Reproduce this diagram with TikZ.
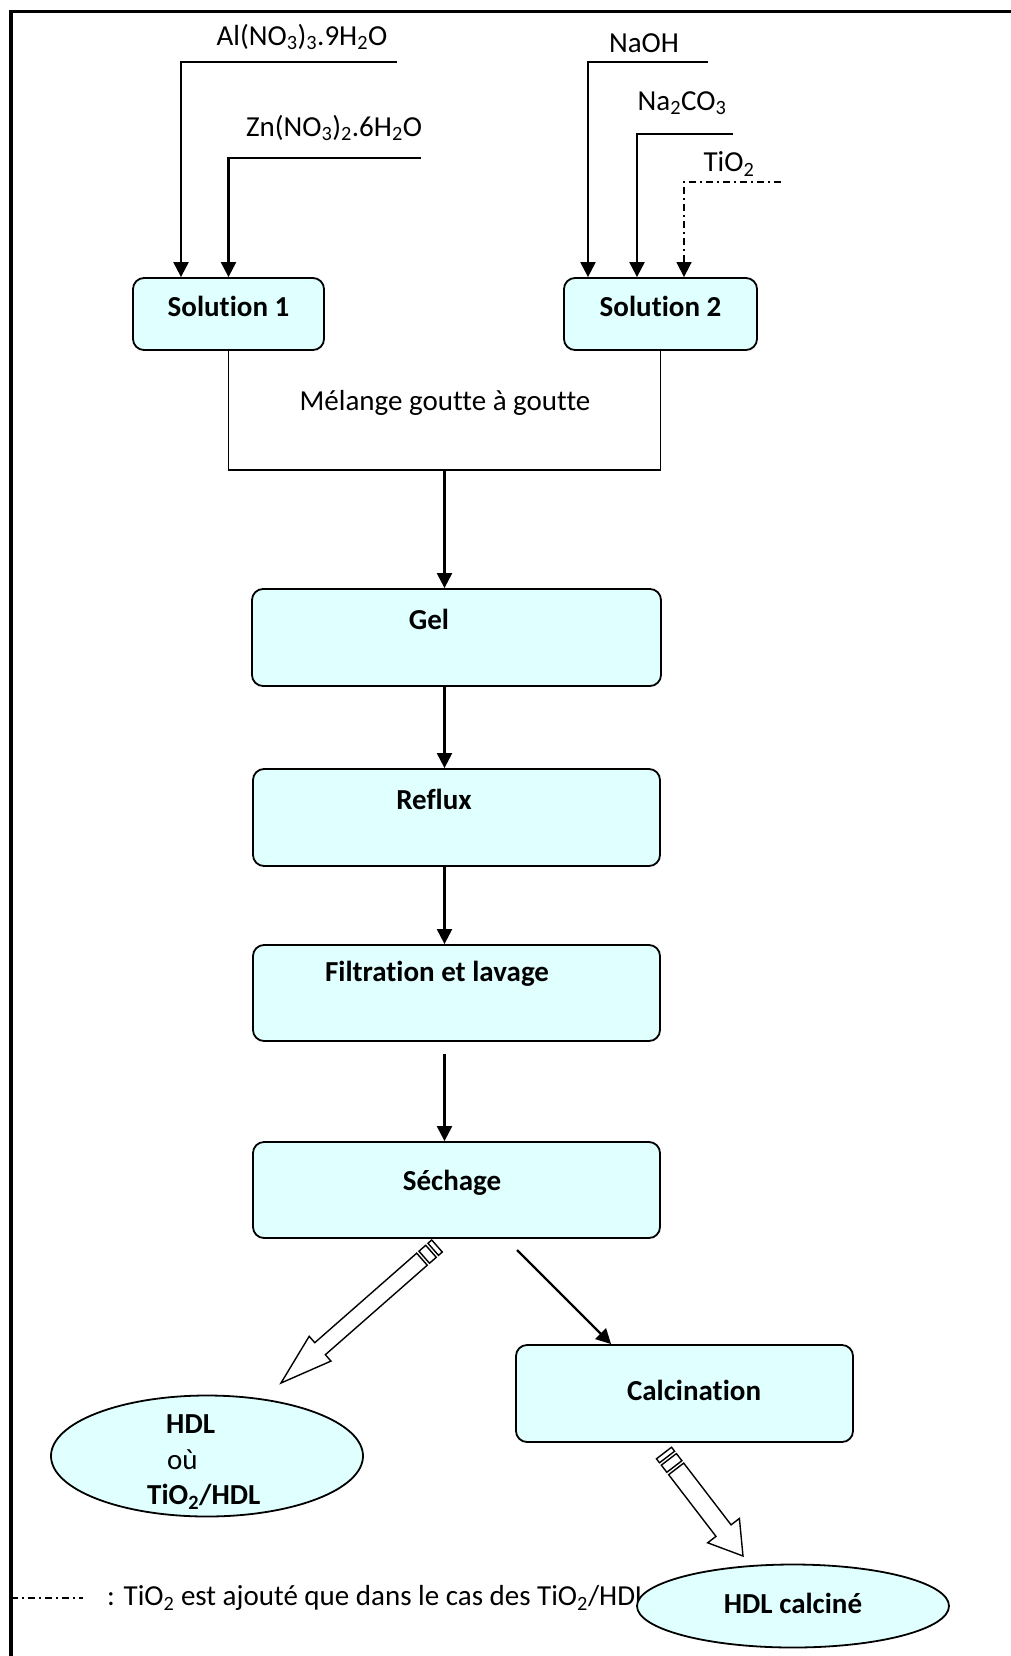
\documentclass[tikz,border=0pt]{standalone}
\usepackage{fontspec}
\setmainfont[Ligatures=NoCommon, Contextuals=NoAlternate]{Carlito}
\usepackage{xcolor}
\usetikzlibrary{arrows.meta,positioning,calc,shapes.geometric}
\definecolor{cyanfill}{RGB}{224,255,255}
% striped hollow arrow: tail, tip, shaft half width, head length, head half width
\newcommand{\stripedarrow}[5]{%
  \path let \p1=($(#2)-(#1)$) in
    \pgfextra{\pgfmathparse{atan2(\y1,\x1)}\xdef\sarang{\pgfmathresult}%
      \pgfmathparse{veclen(\x1,\y1)}\xdef\sarlen{\pgfmathresult}};
  \draw[hollow, shift={(#1)}, rotate=\sarang]
    (0pt,-#3) rectangle (5pt,#3) (8pt,-#3) rectangle (17pt,#3)
    (20pt,-#3) -- ({\sarlen pt-#4},-#3) -- ({\sarlen pt-#4},-#5) -- (\sarlen pt,0pt)
    -- ({\sarlen pt-#4},#5) -- ({\sarlen pt-#4},#3) -- (20pt,#3) -- cycle;
}

\begin{document}
\begin{tikzpicture}[
  x=1pt, y=-1pt,
  font=\fontsize{29pt}{35pt}\selectfont,
  procbox/.style={draw, line width=1.8pt, rounded corners=11pt, fill=cyanfill, inner sep=0pt},
  blob/.style={draw, ellipse, line width=1.8pt, fill=cyanfill, inner sep=0pt},
  lbl/.style={font=\fontsize{29pt}{35pt}\selectfont\bfseries, inner sep=0pt},
  arr/.style={line width=2.2pt, -{Triangle[length=15pt,width=15pt]}},
  dashdot/.style={line width=1.6pt, dash pattern=on 7pt off 4pt on 2pt off 4pt},
  hollow/.style={draw, line width=1.4pt, fill=white},
  >=Stealth]
\useasboundingbox (0,0) rectangle (1011,1656);
\draw[line width=3.5pt] (11,1660) -- (11,11.5) -- (1015,11.5);

% the two solutions
\node[procbox, lbl, text depth=16pt, minimum width=191pt, minimum height=72pt] (sol1) at (228.5,314) {Solution 1};
\node[procbox, lbl, text depth=16pt, minimum width=193pt, minimum height=72pt] (sol2) at (660.5,314) {Solution 2};

\coordinate (alend) at (397,62);
\coordinate (znend) at (421,158);
\node (al) at (302,37) {Al(NO\textsubscript{3})\textsubscript{3}.9H\textsubscript{2}O};
\node (zn) at (334,128) {Zn(NO\textsubscript{3})\textsubscript{2}.6H\textsubscript{2}O};
\draw[arr] (alend) -| ([xshift=-47.5pt]sol1.north);
\draw[arr] (znend) -| (sol1.north);

\coordinate (naohend) at (708,62);
\coordinate (carbend) at (733,134);
\coordinate (tioend) at (781,182);
\node (naoh) at (644,43) {NaOH};
\node (carb) at (682,103) {Na\textsubscript{2}CO\textsubscript{3}};
\node (tio) at (729,164) {TiO\textsubscript{2}};
\draw[arr] (naohend) -| ([xshift=-72.5pt]sol2.north);
\draw[arr] (carbend) -| ([xshift=-23.5pt]sol2.north);
\draw[arr, dashdot] (tioend) -| ([xshift=23.5pt]sol2.north);

% mixing
\coordinate (mix) at (444.5,470);
\draw[line width=1.6pt] (sol1.south) |- (mix) -| (sol2.south);
\node (melange) at (445,403) {Mélange goutte à goutte};

% process steps
\node[procbox, minimum width=409pt, minimum height=97pt] (gel) at (456.5,637.5) {};
\node[lbl, xshift=-27.5pt, yshift=18.5pt] (geltxt) at (gel) {Gel};
\node[procbox, minimum width=407pt, minimum height=97pt] (reflux) at (456.5,817.5) {};
\node[lbl, xshift=-22.5pt, yshift=18.5pt] (refluxtxt) at (reflux) {Reflux};
\node[procbox, minimum width=407pt, minimum height=96pt] (filt) at (456.5,993) {};
\node[lbl, xshift=-19.5pt, yshift=19pt] (filttxt) at (filt) {Filtration et lavage};
\node[procbox, minimum width=407pt, minimum height=96pt] (sech) at (456.5,1190) {};
\node[lbl, xshift=-4.5pt, yshift=7pt] (sechtxt) at (sech) {Séchage};
\node[procbox, minimum width=337pt, minimum height=97pt] (calcin) at (684.5,1393.5) {};
\node[lbl, xshift=9.5pt, yshift=3.5pt] (calcintxt) at (calcin) {Calcination};

\draw[arr] (mix) -- (mix |- gel.north);
\draw[arr] (mix |- gel.south) -- (mix |- reflux.north);
\draw[arr] (mix |- reflux.south) -- (mix |- filt.north);
\draw[arr] ([yshift=-12pt]mix |- filt.south) -- (mix |- sech.north);

\coordinate (drytail) at (517,1250);
\draw[arr] (drytail) -- ([xshift=96pt]calcin.north west);

% products
\node[blob, minimum width=312pt, minimum height=121pt] (hdl) at (207,1456) {};
\node[lbl, align=left, anchor=west, xshift=-60pt, yshift=-6pt] (hdltxt) at (hdl) {\hspace*{19pt}HDL\\[0.5pt]\hspace*{20pt}\mdseries où\\[0.5pt]TiO\textsubscript{2}/HDL};

\coordinate (h1a) at (437,1246);
\coordinate (h1b) at (281,1383);
\stripedarrow{h1a}{h1b}{8pt}{52pt}{16.5pt}

\node[anchor=west, inner sep=0pt] (legend) at (107,1598) {: TiO\textsubscript{2} est ajouté que dans le cas des TiO\textsubscript{2}/HDL};
\draw[dashdot] (11,1598) -- ([xshift=-24pt]legend.west);

\node[blob, lbl, text depth=6pt, minimum width=312pt, minimum height=83pt] (hdlcalc) at (793,1606) {HDL calciné};

\coordinate (h2a) at (664,1453);
\coordinate (h2b) at (743,1556);
\stripedarrow{h2a}{h2b}{9.5pt}{32pt}{20pt}
\end{tikzpicture}
\end{document}
